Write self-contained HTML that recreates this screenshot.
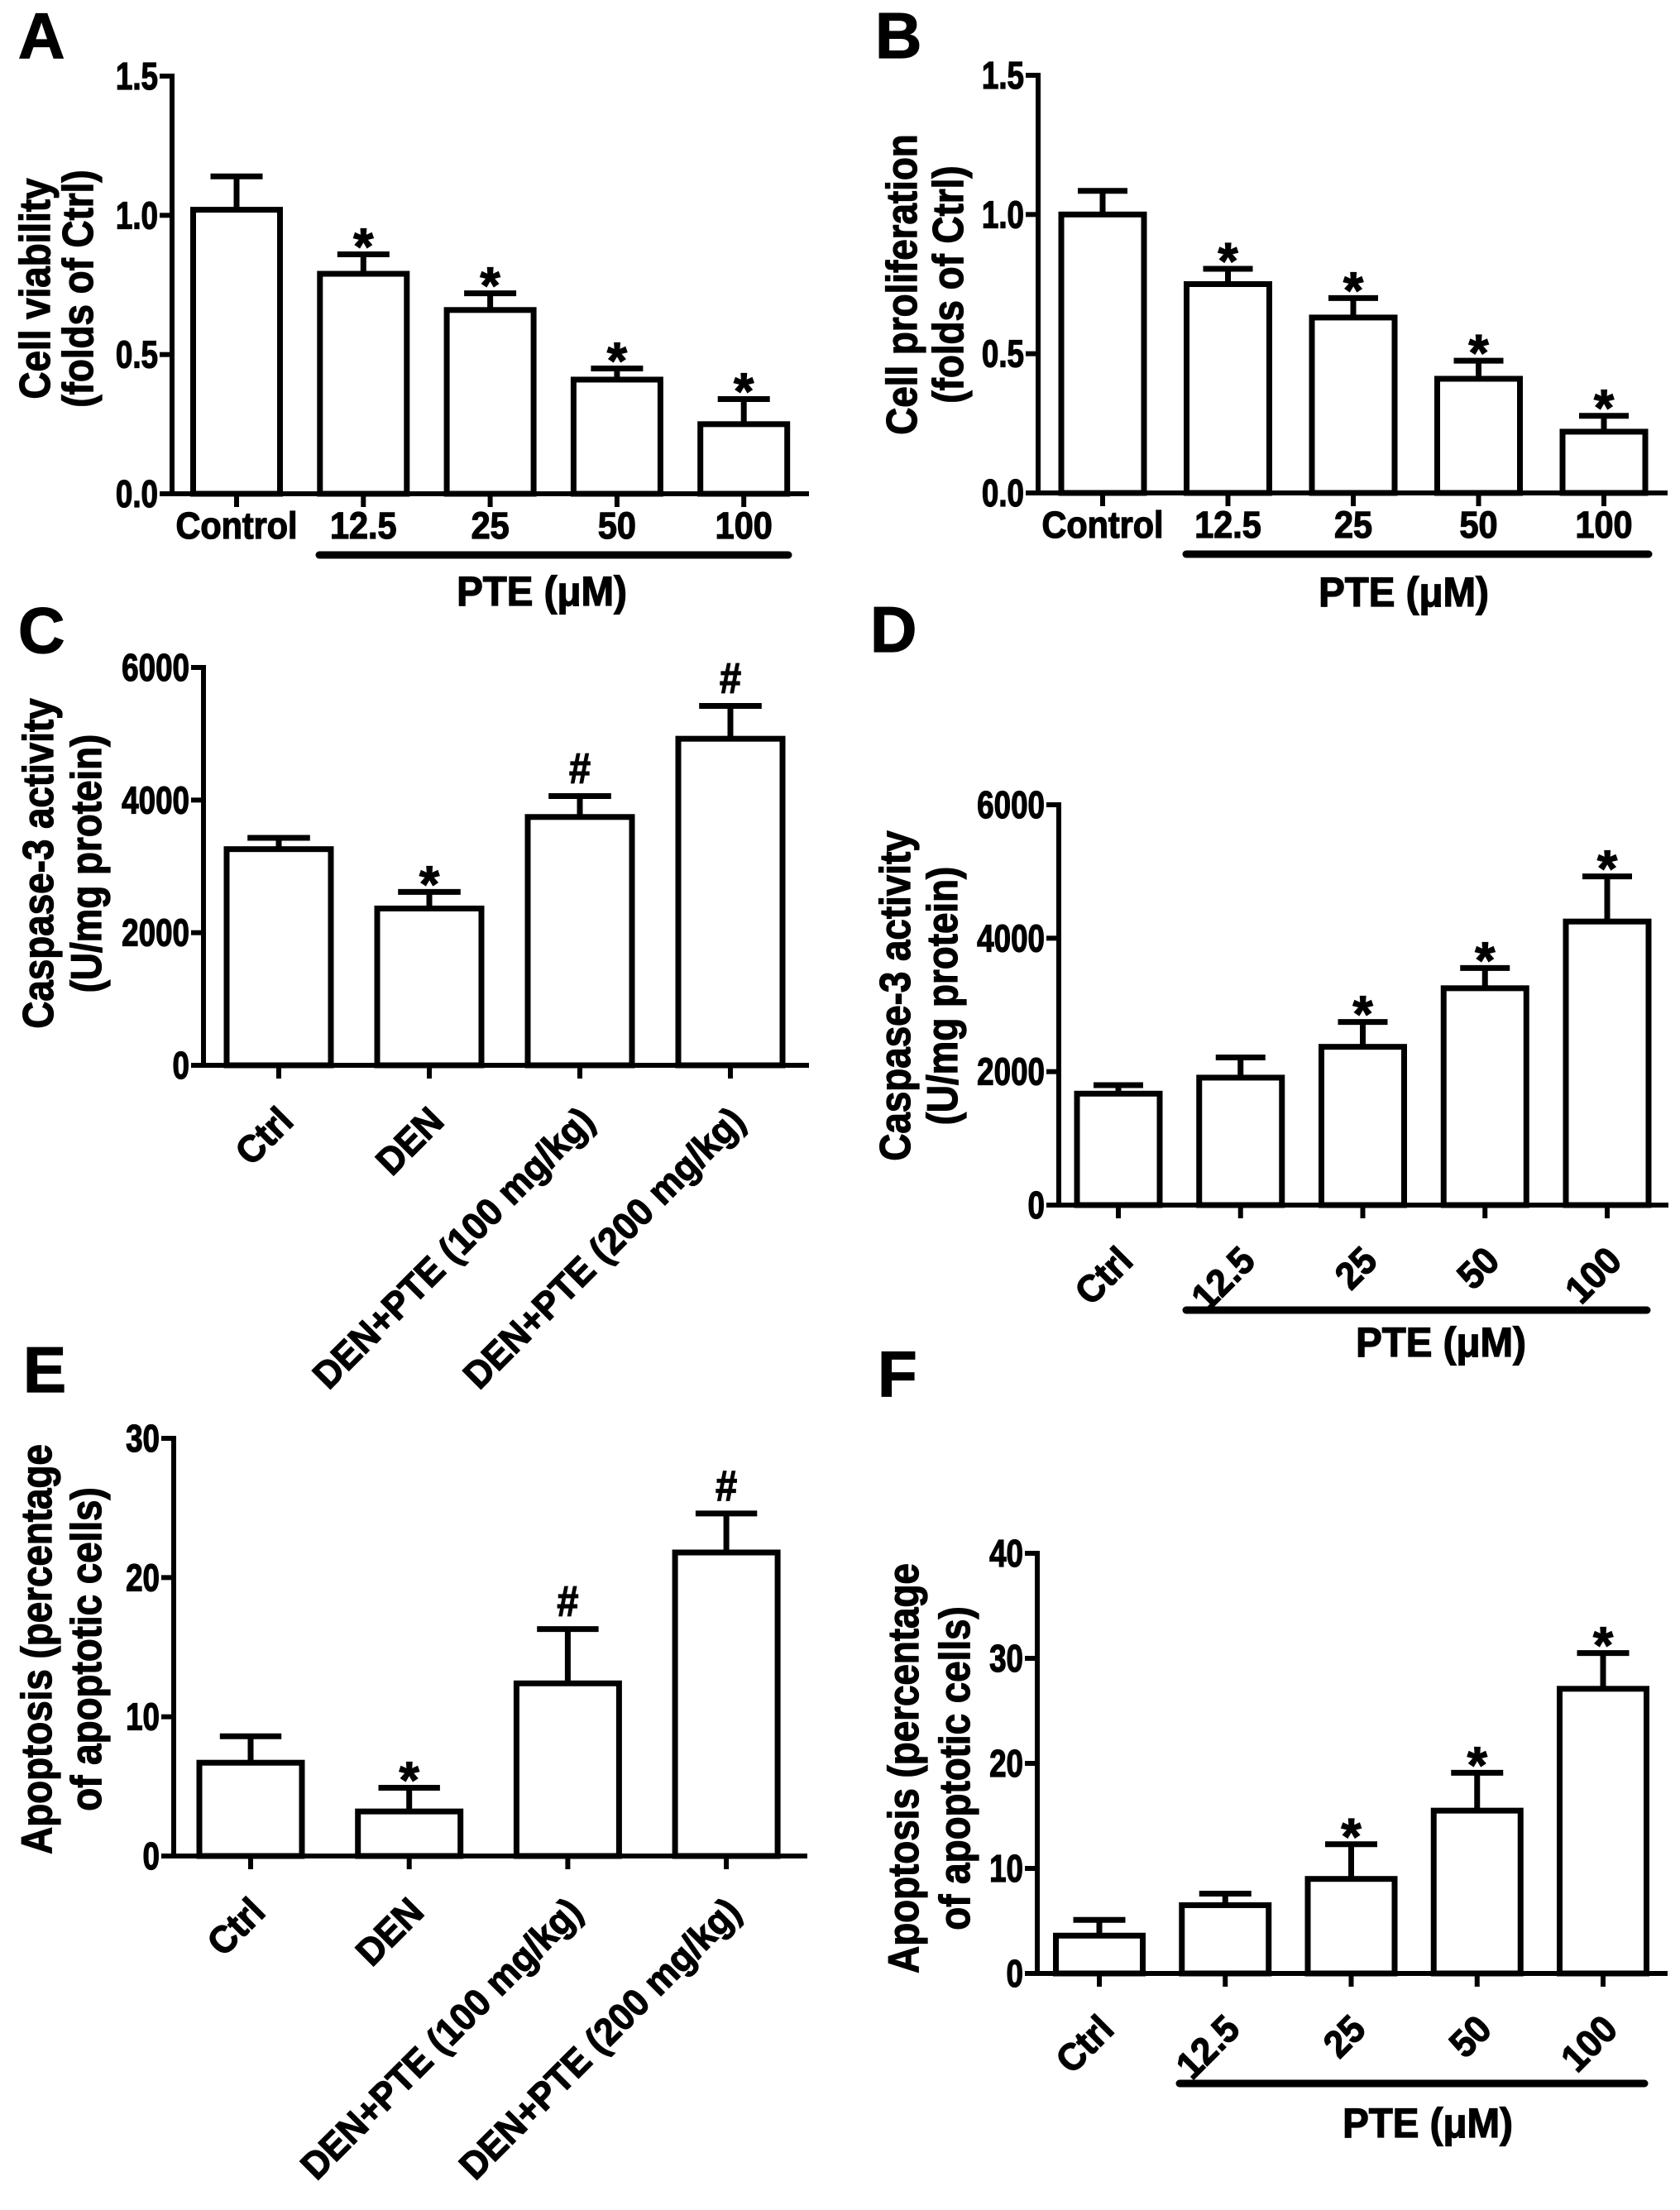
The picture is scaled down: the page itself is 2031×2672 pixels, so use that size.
<!DOCTYPE html>
<html><head><meta charset="utf-8">
<style>
html,body{margin:0;padding:0;background:#fff;}
svg{display:block;}
text{font-family:"Liberation Sans",Arial,sans-serif;font-weight:bold;fill:#000;stroke:#000;stroke-width:1.3px;}
</style></head>
<body>
<svg id="fig" width="2031" height="2672" viewBox="0 0 2031 2672" xmlns="http://www.w3.org/2000/svg">
<rect x="0" y="0" width="2031" height="2672" fill="#fff"/>
</svg>
<script>
// ---- data ----
const aCats = ["Control","12.5","25","50","100"];
const aVals = [1.02,0.79,0.66,0.41,0.25];
const aErrs = [0.12,0.07,0.06,0.04,0.09];
const aMarks = ["","*","*","*","*"];
const aTicks = [0,0.5,1.0,1.5];
const aTickLabels = ["0.0","0.5","1.0","1.5"];

const bCats = ["Control","12.5","25","50","100"];
const bVals = [1.0,0.75,0.63,0.41,0.22];
const bErrs = [0.085,0.055,0.07,0.065,0.057];
const bMarks = ["","*","*","*","*"];
const bTicks = [0,0.5,1.0,1.5];
const bTickLabels = ["0.0","0.5","1.0","1.5"];

const cCats = ["Ctrl","DEN","DEN+PTE (100 mg/kg)","DEN+PTE (200 mg/kg)"];
const cVals = [3260,2365,3745,4925];
const cErrs = [170,250,315,495];
const cMarks = ["","*","#","#"];
const cTicks = [0,2000,4000,6000];
const cTickLabels = ["0","2000","4000","6000"];

const dCats = ["Ctrl","12.5","25","50","100"];
const dVals = [1670,1910,2372,3250,4250];
const dErrs = [127,303,372,303,676];
const dMarks = ["","","*","*","*"];
const dTicks = [0,2000,4000,6000];
const dTickLabels = ["0","2000","4000","6000"];

const eCats = ["Ctrl","DEN","DEN+PTE (100 mg/kg)","DEN+PTE (200 mg/kg)"];
const eVals = [6.7,3.2,12.4,21.8];
const eErrs = [1.9,1.7,3.9,2.8];
const eMarks = ["","*","#","#"];
const eTicks = [0,10,20,30];
const eTickLabels = ["0","10","20","30"];

const fCats = ["Ctrl","12.5","25","50","100"];
const fVals = [3.6,6.5,9.0,15.5,27.1];
const fErrs = [1.5,1.1,3.3,3.6,3.4];
const fMarks = ["","","*","*","*"];
const fTicks = [0,10,20,30,40];
const fTickLabels = ["0","10","20","30","40"];

const NS = "http://www.w3.org/2000/svg";
const svg = document.getElementById("fig");

function mk(tag, attrs, parent){
  const e = document.createElementNS(NS, tag);
  for (const k in attrs) e.setAttribute(k, attrs[k]);
  (parent||svg).appendChild(e);
  return e;
}
function txt(parent, str, x, y, size, anchor, rot, sx){
  const t = mk("text", {"font-size":size, "text-anchor":anchor,
    transform:"translate("+x+","+y+") rotate("+rot+") scale("+sx+",1)"}, parent);
  t.textContent = str;
  return t;
}

function panel(p, cats, vals, errs, marks, ticks, tickLabels){
  const g = mk("g", {});
  
  
  const yScale = v => p.y0 - (v - ticks[0]) / (ticks[ticks.length-1] - ticks[0]) * (p.y0 - p.yTop);
  const xPos = i => p.x1 + p.step * i;

  const letter = txt(g, p.letter, p.lx, p.ly, 78, "start", 0, 1);
  
  

  cats.forEach((c, i) => {
    const cx = xPos(i), top = yScale(vals[i]), et = yScale(vals[i] + errs[i]);
    const hw = p.bw / 2, cw = p.bw * 0.3;
    const eb = mk("path", {d:"M"+cx+","+top+"V"+et+"M"+(cx-cw)+","+et+"H"+(cx+cw),
      stroke:"#000","stroke-width":7,fill:"none"}, g);
    
    
    const r = mk("rect", {x:cx-hw, y:top, width:p.bw, height:p.y0-top,
      fill:"#fff", stroke:"#000", "stroke-width":7}, g);
    
    
    if (marks[i] === "*") {
      const m = txt(g, "*", cx, et + 12, 62, "middle", 0, 1);
      
      
    } else if (marks[i] === "#") {
      const m = txt(g, "#", cx, et - 16, 52, "middle", 0, 0.9);
      
      
    }
    mk("line", {x1:cx, y1:p.y0, x2:cx, y2:p.y0+16, stroke:"#000","stroke-width":6}, g);
    let lab;
    if (p.rot) {
      lab = txt(g, c, cx + 20, p.y0 + 70, 46, "end", -45, 0.95);
    } else {
      lab = txt(g, c, cx, p.labY, 45, "middle", 0, 0.92);
    }
    
    
  });

  const ya = mk("line", {x1:p.ax, y1:p.yTop-3, x2:p.ax, y2:p.y0+3, stroke:"#000","stroke-width":6}, g);
  
  
  const xa = mk("line", {x1:p.ax-14, y1:p.y0, x2:p.xEnd, y2:p.y0, stroke:"#000","stroke-width":6}, g);
  
  
  ticks.forEach((t, i) => {
    const y = yScale(t);
    mk("line", {x1:p.ax-15, y1:y, x2:p.ax, y2:y, stroke:"#000","stroke-width":6}, g);
    const tl = txt(g, tickLabels[i], p.ax - 17, y + 16, 46, "end", 0, 0.8);
    
    
  });

  const t1 = txt(g, p.t1, p.tx1, p.ty, 52, "middle", -90, 0.88);
  
  
  const t2 = txt(g, p.t2, p.tx2, p.ty, 52, "middle", -90, 0.88);
  
  

  if (p.ul) {
    const ul = mk("line", {x1:p.ul[0], y1:p.ul[2], x2:p.ul[1], y2:p.ul[2], stroke:"#000","stroke-width":9,"stroke-linecap":"round"}, g);
    
    
    const pt = txt(g, "PTE (\u03bcM)", p.pte[0], p.pte[1], 50, "middle", 0, 0.95);
    
    
  }
}

panel({id:"a", letter:"A", lx:22, ly:70, ax:208, yTop:92, y0:597, x1:286, step:153.3, bw:105, xEnd:978,
  labY:651, rot:false, t1:"Cell viability", t2:"(folds of Ctrl)", tx1:60, tx2:112, ty:349,
  ul:[386,953,671], pte:[655,732]}, aCats, aVals, aErrs, aMarks, aTicks, aTickLabels);

panel({id:"b", letter:"B", lx:1058, ly:70, ax:1255, yTop:91, y0:596, x1:1333, step:151.5, bw:100, xEnd:2016,
  labY:650, rot:false, t1:"Cell proliferation", t2:"(folds of Ctrl)", tx1:1108, tx2:1164, ty:344,
  ul:[1434,1993,670], pte:[1697,733]}, bCats, bVals, bErrs, bMarks, bTicks, bTickLabels);

panel({id:"c", letter:"C", lx:22, ly:789, ax:246, yTop:807, y0:1288, x1:337, step:182, bw:126, xEnd:978,
  rot:true, t1:"Caspase-3 activity", t2:"(U/mg protein)", tx1:64, tx2:122, ty:1044,
  ul:null}, cCats, cVals, cErrs, cMarks, cTicks, cTickLabels);

panel({id:"d", letter:"D", lx:1052, ly:788, ax:1280, yTop:973, y0:1457, x1:1352, step:147.75, bw:100, xEnd:2017,
  rot:true, t1:"Caspase-3 activity", t2:"(U/mg protein)", tx1:1100, tx2:1157, ty:1204,
  ul:[1434,1991,1584], pte:[1742,1640]}, dCats, dVals, dErrs, dMarks, dTicks, dTickLabels);

panel({id:"e", letter:"E", lx:28, ly:1683, ax:210, yTop:1739, y0:2244, x1:303, step:191.7, bw:124, xEnd:976,
  rot:true, t1:"Apoptosis (percentage", t2:"of apoptotic cells)", tx1:62, tx2:122, ty:1994,
  ul:null}, eCats, eVals, eErrs, eMarks, eTicks, eTickLabels);

panel({id:"f", letter:"F", lx:1061, ly:1688, ax:1254, yTop:1878, y0:2386, x1:1329, step:152.25, bw:105, xEnd:2016,
  rot:true, t1:"Apoptosis (percentage", t2:"of apoptotic cells)", tx1:1110, tx2:1172, ty:2138,
  ul:[1426,1988,2519], pte:[1726,2584]}, fCats, fVals, fErrs, fMarks, fTicks, fTickLabels);
</script>
</body></html>
